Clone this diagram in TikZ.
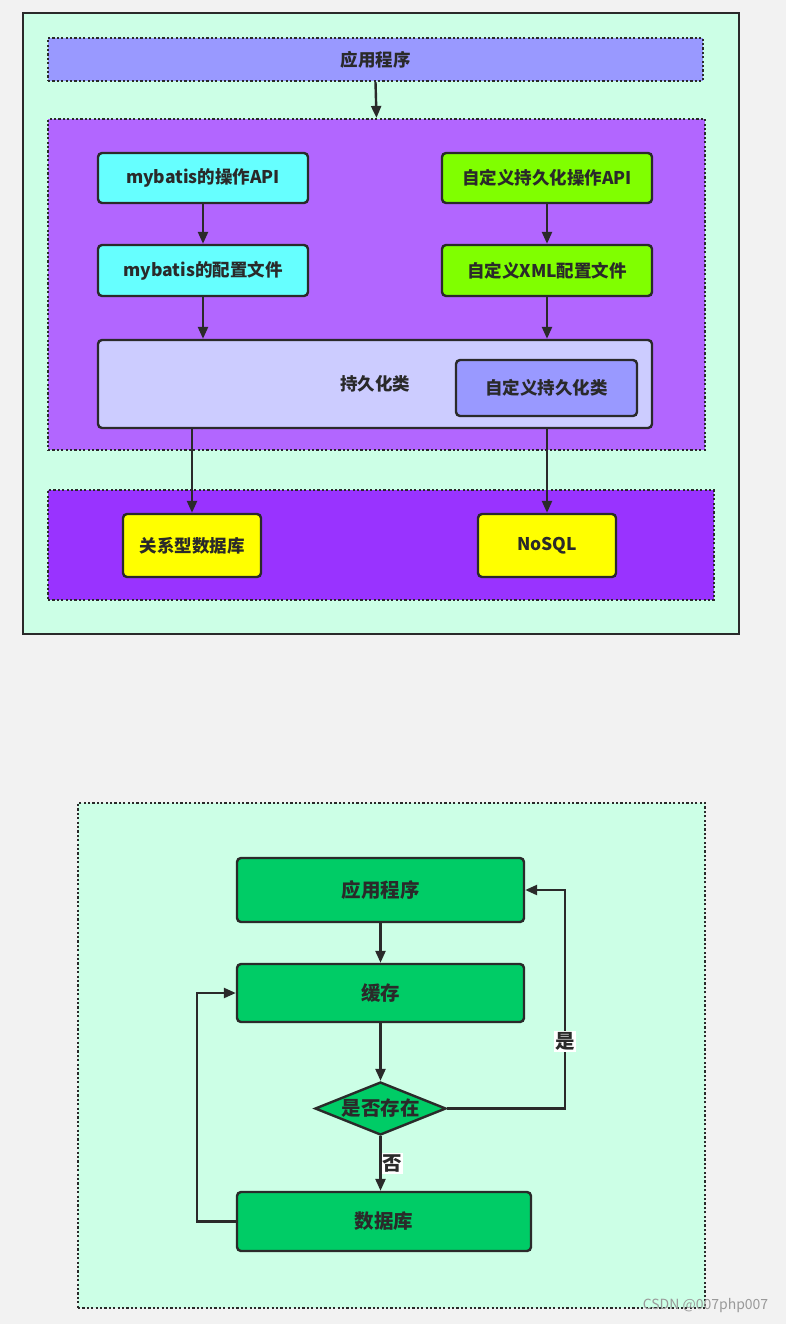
\documentclass[tikz,border=0pt]{standalone}
\usepackage{fontspec}
\setmainfont{Noto Sans CJK SC}
\usetikzlibrary{arrows.meta, positioning, shapes.geometric}
\definecolor{PageGrey}{HTML}{F2F2F2}
\definecolor{Mint}{HTML}{CCFFE6}
\definecolor{Ink}{HTML}{2A2A2A}
\definecolor{Periwinkle}{HTML}{9999FF}
\definecolor{Lavender}{HTML}{CCCCFF}
\definecolor{Violet}{HTML}{B266FF}
\definecolor{DeepViolet}{HTML}{9933FF}
\definecolor{Aqua}{HTML}{66FFFF}
\definecolor{Lime}{HTML}{80FF00}
\definecolor{Lemon}{HTML}{FFFF00}
\definecolor{Leaf}{HTML}{00CC66}
\definecolor{Mark}{HTML}{999999}

\begin{document}
\begin{tikzpicture}[x=1pt, y=-1pt,
    every node/.style={font=\bfseries\fontsize{17.5}{20}\selectfont, text=Ink, align=center},
    frame/.style={draw=Ink, line width=2.2pt, fill=Mint, inner sep=0pt},
    layer/.style={draw=Ink, line width=2.2pt, dash pattern=on 2.2pt off 2.2pt, inner sep=0pt},
    box/.style={draw=Ink, line width=2.4pt, rounded corners=4pt, inner sep=0pt},
    flow/.style={box, fill=Leaf, font=\bfseries\fontsize{19.5}{22}\selectfont},
    arr/.style={draw=Ink, line width=2.4pt, -{Triangle[length=12pt, width=10pt]}},
    lbl/.style={fill=white, inner sep=1.5pt, font=\bfseries\fontsize{19.5}{22}\selectfont}
]
\useasboundingbox (0,0) rectangle (786,1324);
\fill[PageGrey] (0,0) rectangle (786,1324);

% upper diagram
\node[frame, minimum width=716pt, minimum height=621pt] (top) at (381,323.5) {};
\node[layer, fill=Periwinkle, minimum width=655pt, minimum height=43pt] (app) at (375.5,59.5) {应用程序};
\node[layer, fill=Violet, minimum width=657pt, minimum height=331pt] (core) at (376.5,284.5) {};
\node[layer, fill=DeepViolet, minimum width=666pt, minimum height=110pt] (store) at (381,545) {};

\node[box, fill=Aqua, minimum width=210pt, minimum height=50pt] (mbapi) at (203,178) {mybatis的操作API};
\node[box, fill=Lime, minimum width=210pt, minimum height=50pt] (myapi) at (547,178) {自定义持久化操作API};
\node[box, fill=Aqua, minimum width=210pt, minimum height=51pt] (mbcfg) at (203,270.5) {mybatis的配置文件};
\node[box, fill=Lime, minimum width=210pt, minimum height=51pt] (xmlcfg) at (547,270.5) {自定义XML配置文件};
\node[box, fill=Lavender, minimum width=554pt, minimum height=88pt] (persist) at (375,384) {持久化类};
\node[box, fill=Periwinkle, minimum width=181pt, minimum height=56pt] (mypersist) at (546.5,388) {自定义持久化类};
\node[box, fill=Lemon, minimum width=138pt, minimum height=63pt] (rdb) at (192,545.5) {关系型数据库};
\node[box, fill=Lemon, minimum width=138pt, minimum height=63pt] (nosql) at (547,545.5) {NoSQL};

\draw[arr] (app.south) -- (core.north);
\draw[arr] (mbapi) -- (mbcfg);
\draw[arr] (myapi) -- (xmlcfg);
\draw[arr] (mbcfg.south) -- (mbcfg.south |- persist.north);
\draw[arr] (xmlcfg.south) -- (xmlcfg.south |- persist.north);
\draw[arr] (rdb.north |- persist.south) -- (rdb.north);
\draw[arr] (nosql.north |- persist.south) -- (nosql.north);

% lower diagram
\node[layer, fill=Mint, minimum width=627pt, minimum height=505pt] (bottom) at (391.5,1055.5) {};
\node[flow, minimum width=287pt, minimum height=64pt] (app2) at (380.5,890) {应用程序};
\node[flow, minimum width=287pt, minimum height=58pt] (cache) at (380.5,993) {缓存};
\node[draw=Ink, line width=2.4pt, fill=Leaf, diamond, aspect=2.5, inner sep=0pt,
      minimum width=131pt, minimum height=53pt, font=\bfseries\fontsize{19.5}{22}\selectfont] (check) at (380.5,1108.5) {是否存在};
\node[flow, minimum width=294pt, minimum height=59pt] (db) at (384,1221.5) {数据库};
\coordinate (yesturn) at (565,1108.5);
\coordinate (returnturn) at (197,1221.5);

\draw[arr] (app2) -- (cache);
\draw[arr] (cache) -- (check);
\draw[arr] (check.south) -- node[lbl, anchor=west, inner xsep=1pt] {否} (check.south |- db.north);
\draw[arr] (check.east) -- (yesturn) |- node[lbl, pos=0.154] {是} (app2.east);
\draw[arr] (db.west) -- (returnturn) |- (cache.west);

\node[font=\mdseries\fontsize{14}{16}\selectfont, text=Mark] (mark) at (705.5,1306) {CSDN @007php007};
\end{tikzpicture}
\end{document}
